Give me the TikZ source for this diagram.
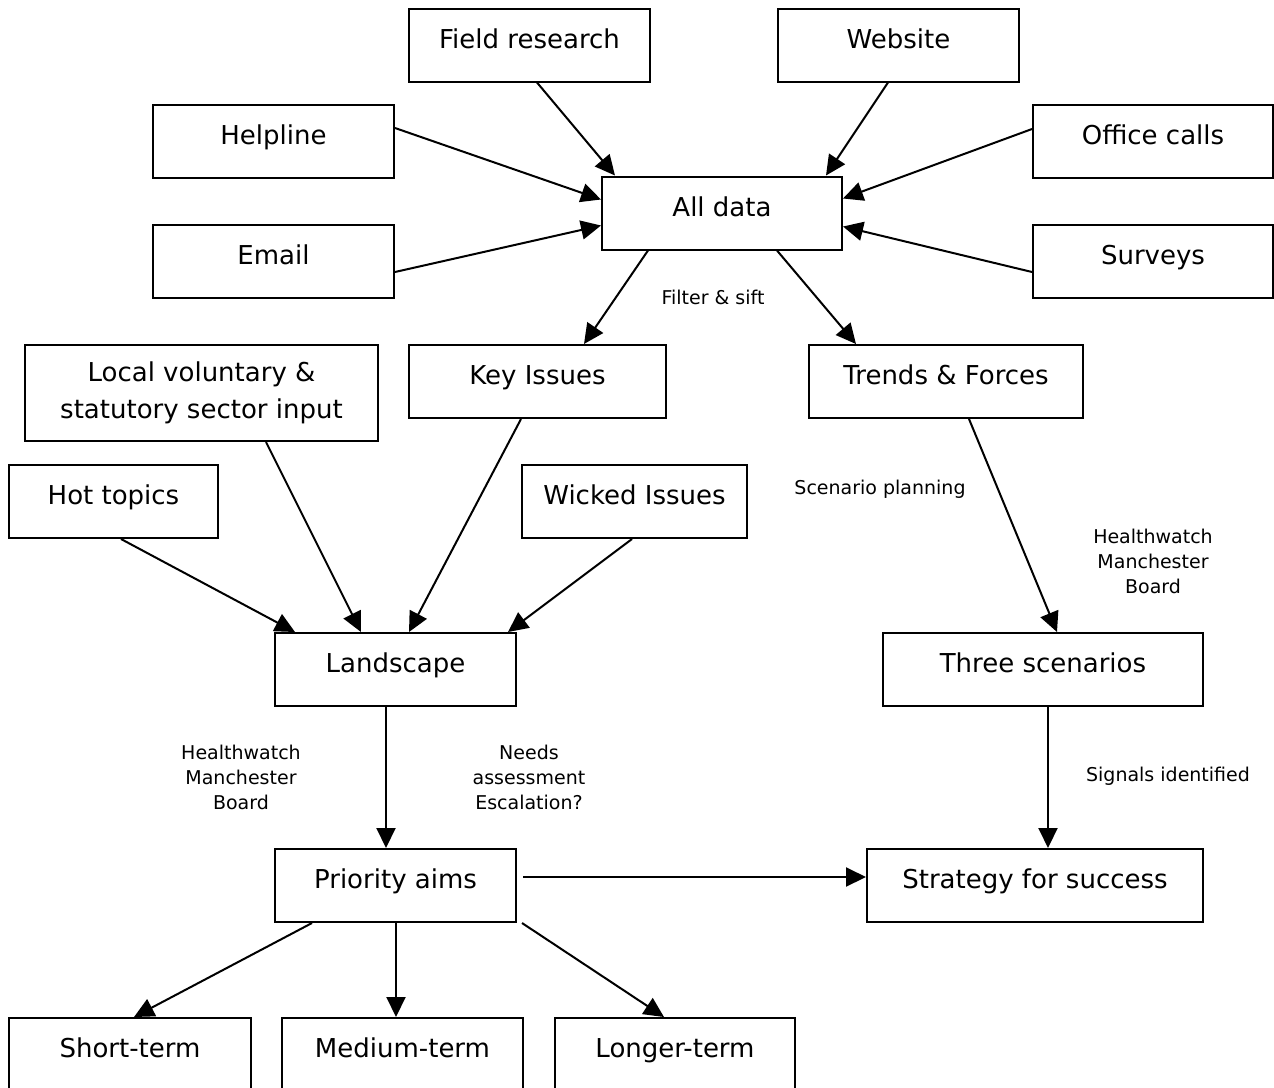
\documentclass[tikz,border=0pt]{standalone}
\usepackage{fontspec}
\setmainfont{DejaVu Sans}
\usetikzlibrary{arrows.meta}
\begin{document}
\begin{tikzpicture}[x=1pt,y=-1pt,
  bx/.style={draw, line width=2pt, inner sep=0pt, minimum height=73pt, font=\fontsize{26}{37}\selectfont, text height=19pt, text depth=13pt},
  bxtwo/.style={draw, line width=2pt, inner sep=0pt, align=center, font=\fontsize{26}{37}\selectfont},
  lbl/.style={font=\fontsize{19}{25}\selectfont, align=center, inner sep=0pt},
  conn/.style={line width=2pt, -{Triangle[length=20pt,width=19pt]}},
]
\useasboundingbox (0,0) rectangle (1274,1087);
% boxes
\node[bx, minimum width=241pt] (fr) at (529.5,45) {Field research};
\node[bx, minimum width=241pt] (web) at (898.5,45) {Website};
\node[bx, minimum width=241pt] (help) at (273.5,141.5) {Helpline};
\node[bx, minimum width=241pt] (email) at (273.5,261.5) {Email};
\node[bx, minimum width=240pt] (office) at (1153,141.5) {Office calls};
\node[bx, minimum width=240pt] (surv) at (1153,261.5) {Surveys};
\node[bx, minimum width=240pt] (all) at (722,213) {All data};
\node[bxtwo, minimum width=353pt, minimum height=96pt] (lv) at (201.5,393) {Local voluntary \&\\statutory sector input};
\node[bx, minimum width=257pt] (key) at (537.5,381.5) {Key Issues};
\node[bx, minimum width=274pt] (trend) at (946,381.5) {Trends \& Forces};
\node[bx, minimum width=209pt] (hot) at (113.5,501.5) {Hot topics};
\node[bx, minimum width=225pt] (wick) at (634.5,501.5) {Wicked Issues};
\node[bx, minimum width=241pt] (land) at (395.5,669.5) {Landscape};
\node[bx, minimum width=320pt] (three) at (1043,669.5) {Three scenarios};
\node[bx, minimum width=241pt] (prio) at (395.5,885.5) {Priority aims};
\node[bx, minimum width=336pt] (strat) at (1035,885.5) {Strategy for success};
\node[bx, minimum width=242pt] (short) at (130,1054.5) {Short-term};
\node[bx, minimum width=241pt] (med) at (402.5,1054.5) {Medium-term};
\node[bx, minimum width=240pt] (long) at (675,1054.5) {Longer-term};
% connectors
\draw[conn] ([xshift=129pt]fr.south west) -- ([xshift=14pt]all.north west);
\draw[conn] ([xshift=111pt]web.south west) -- ([xshift=225pt]all.north west);
\draw[conn] ([yshift=-24pt]help.north east) -- ([yshift=-24pt]all.north west);
\draw[conn] ([yshift=-48pt]email.north east) -- ([yshift=-50pt]all.north west);
\draw[conn] ([yshift=-25pt]office.north west) -- ([yshift=-23pt]all.north east);
\draw[conn] ([yshift=-48pt]surv.north west) -- ([yshift=-51pt]all.north east);
\draw[conn] ([xshift=47pt]all.south west) -- ([xshift=176pt]key.north west);
\draw[conn] ([xshift=176pt]all.south west) -- ([xshift=48pt]trend.north west);
\draw[conn] ([xshift=242pt]lv.south west) -- ([xshift=87pt]land.north west);
\draw[conn] ([xshift=113pt]key.south west) -- ([xshift=135pt]land.north west);
\draw[conn] ([xshift=113pt]hot.south west) -- ([xshift=21pt]land.north west);
\draw[conn] ([xshift=111pt]wick.south west) -- ([xshift=-9pt]land.north east);
\draw[conn] ([xshift=161pt]trend.south west) -- ([xshift=175pt]three.north west);
\draw[conn] ([xshift=112pt]land.south west) -- ([xshift=112pt]prio.north west);
\draw[conn] ([xshift=5pt]three.south) -- ([xshift=5pt]three.south |- strat.north);
\draw[conn] ([xshift=6pt,yshift=8.5pt]prio.east) -- ([yshift=8.5pt]prio.east -| strat.west);
\draw[conn] ([xshift=38pt]prio.south west) -- ([xshift=126pt]short.north west);
\draw[conn] ([xshift=0.5pt]prio.south) -- ([xshift=0.5pt]prio.south |- med.north);
\draw[conn] ([xshift=5pt]prio.south east) -- ([xshift=110pt]long.north west);
% labels
\node[lbl] (l1) at (713,297) {Filter \& sift};
\node[lbl] (l2) at (880,489) {Scenario planning};
\node[lbl] (l3) at (1153,561) {Healthwatch\\Manchester\\Board};
\node[lbl] (l4) at (241,777) {Healthwatch\\Manchester\\Board};
\node[lbl] (l5) at (529,777) {Needs\\assessment\\Escalation?};
\node[lbl] (l6) at (1168,776) {Signals identified};
\end{tikzpicture}
\end{document}
